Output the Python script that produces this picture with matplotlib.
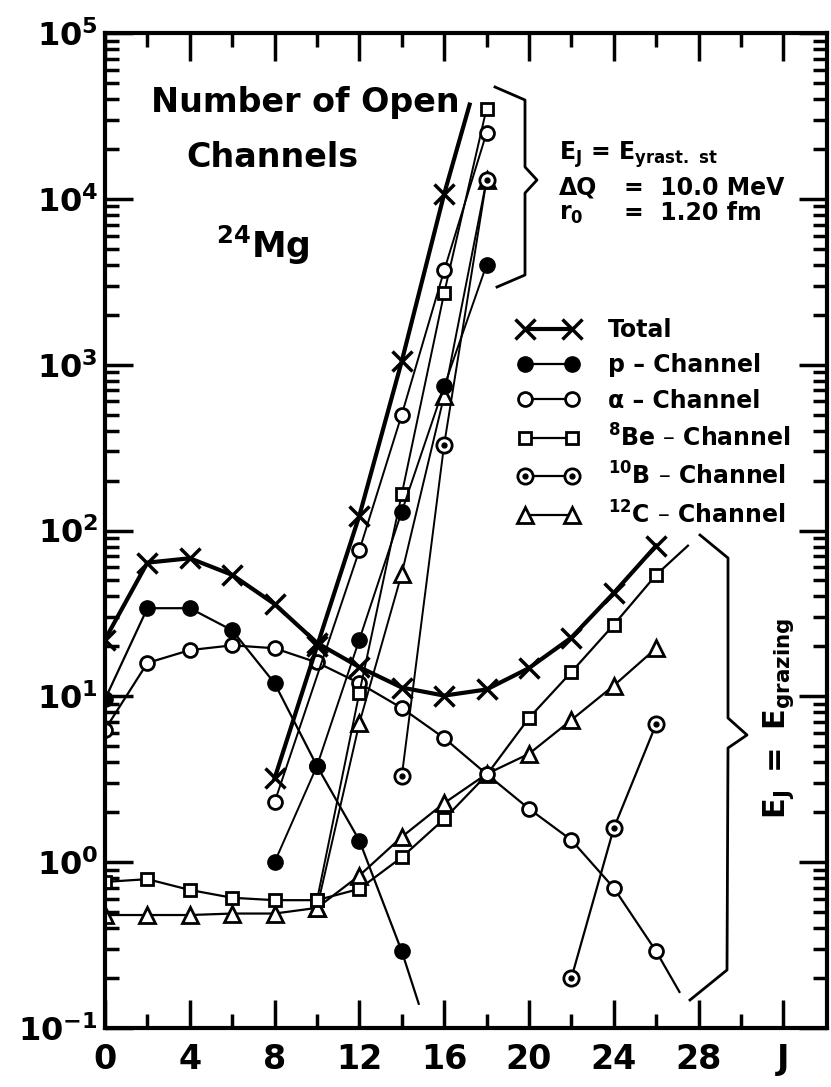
import matplotlib.pyplot as plt
from matplotlib.lines import Line2D
from matplotlib.legend_handler import HandlerTuple
from matplotlib.ticker import FixedLocator, NullFormatter

plt.rcParams['font.family'] = ['DejaVu Sans']
plt.rcParams['font.weight'] = 'bold'
plt.rcParams['mathtext.fontset'] = 'dejavusans'
plt.rcParams['mathtext.default'] = 'bf'

# --- E_J = E_grazing branch ---
J_graz = [0, 2, 4, 6, 8, 10, 12, 14, 16, 18, 20, 22, 24, 26]
total_graz = [22, 64, 68, 54, 36, 21, 15, 11.3, 10.1, 11, 14.8, 22.6, 42, 81]
alpha_graz = [6.3, 15.9, 19, 20.3, 19.5, 16, 12, 8.5, 5.6, 3.4, 2.1, 1.36, 0.70, 0.29]
be_graz = [0.76, 0.79, 0.68, 0.61, 0.59, 0.59, 0.69, 1.07, 1.82, 3.35, 7.4, 14, 27, 54]
c_graz = [0.48, 0.48, 0.48, 0.49, 0.49, 0.53, 0.83, 1.42, 2.27, 3.4, 4.5, 7.2, 11.6, 19.5]
J_p_graz = [0, 2, 4, 6, 8, 10, 12, 14]
p_graz = [9.6, 34, 34, 25, 12, 3.8, 1.35, 0.29]
J_b_graz = [22, 24, 26]
b_graz = [0.20, 1.6, 6.8]

# curves that run on past their last marker
p_graz_end = (14.8, 0.14)
alpha_graz_end = (27.1, 0.165)
be_graz_end = (27.5, 81)

# --- E_J = E_yrast branch ---
J_total_yr = [8, 10, 12, 14, 16]
total_yr = [3.2, 20, 123, 1050, 10700]
total_yr_end = (17.2, 37000)
J_p_yr = [8, 10, 12, 14, 16, 18]
p_yr = [1.0, 3.8, 22, 130, 740, 4000]
J_alpha_yr = [8, 12, 14, 16, 18]
alpha_yr = [2.3, 76, 500, 3700, 25000]
J_be_yr = [10, 12, 14, 16, 18]
be_yr = [0.59, 10.5, 166, 2700, 35000]
J_b_yr = [14, 16, 18]
b_yr = [3.3, 330, 13000]
J_c_yr = [10, 12, 14, 16, 18]
c_yr = [0.53, 6.9, 55, 650, 13000]

x_major = [0, 4, 8, 12, 16, 20, 24, 28, 32]
x_minor = [2, 6, 10, 14, 18, 22, 26, 30]
x_labels = ['0', '4', '8', '12', '16', '20', '24', '28', 'J']
y_exp = [-1, 0, 1, 2, 3, 4, 5]

style = {
    'total': dict(color='k', lw=3, marker='x', ms=14, mew=2.5),
    'p': dict(color='k', lw=1.6, marker='o', ms=11, mfc='k', mec='k'),
    'alpha': dict(color='k', lw=1.6, marker='o', ms=10, mfc='w', mec='k', mew=2),
    'be': dict(color='k', lw=1.6, marker='s', ms=9, mfc='w', mec='k', mew=2),
    'b': dict(color='k', lw=1.6, marker='o', ms=11, mfc='w', mec='k', mew=2),
    'c': dict(color='k', lw=1.6, marker='^', ms=12, mfc='w', mec='k', mew=2),
}
dot = dict(ls='none', marker='o', ms=3.5, color='k')

fig = plt.figure(figsize=(8.31, 10.87), dpi=100)
ax = fig.add_axes([105 / 831, 1 - 1028 / 1087, 722 / 831, 995 / 1087])


def series(J, vals, key, end=None, lw=None):
    xs, ys = list(J), list(vals)
    if end:
        xs.append(end[0])
        ys.append(end[1])
    kw = dict(style[key])
    if lw:
        kw['lw'] = lw
    ax.plot(xs, ys, markevery=list(range(len(J))), **kw)
    if key == 'b':
        ax.plot(J, vals, **dot)


# grazing curves
series(J_graz, c_graz, 'c')
series(J_graz, be_graz, 'be', be_graz_end)
series(J_graz, alpha_graz, 'alpha', alpha_graz_end)
series(J_p_graz, p_graz, 'p', p_graz_end)
series(J_b_graz, b_graz, 'b')
series(J_graz, total_graz, 'total')

# yrast curves
series(J_c_yr, c_yr, 'c', lw=1.4)
series(J_be_yr, be_yr, 'be', lw=1.4)
series(J_alpha_yr, alpha_yr, 'alpha', lw=1.4)
series(J_p_yr, p_yr, 'p', lw=1.4)
series(J_b_yr, b_yr, 'b', lw=1.4)
series(J_total_yr, total_yr, 'total', total_yr_end)

ax.set_yscale('log')
ax.set_xlim(0, 34.06)
ax.set_ylim(0.1, 1e5)

ax.xaxis.set_major_locator(FixedLocator(x_major))
ax.xaxis.set_minor_locator(FixedLocator(x_minor))
ax.set_xticklabels(x_labels)
ax.yaxis.set_major_locator(FixedLocator([10.0 ** e for e in y_exp]))
ax.yaxis.set_minor_locator(FixedLocator([m * 10.0 ** e for e in y_exp[:-1] for m in range(2, 10)]))
ax.set_yticklabels([f'$10^{{{e}}}$' for e in y_exp])
ax.yaxis.set_minor_formatter(NullFormatter())

ax.tick_params(which='both', direction='in', top=True, right=True, width=2.5, color='k')
ax.tick_params(which='major', length=20)
ax.tick_params(which='minor', length=10)
ax.tick_params(axis='x', which='major', labelsize=24, pad=11)
ax.tick_params(axis='y', which='major', labelsize=23, pad=5)
for sp in ax.spines.values():
    sp.set_linewidth(3)

# legend
def handle(key):
    h = Line2D([], [], **style[key])
    if key == 'b':
        return (h, Line2D([], [], **dot))
    return h

labels = ['Total', 'p – Channel', 'α – Channel', '$^{8}$Be – Channel',
          '$^{10}$B – Channel', '$^{12}$C – Channel']
keys = ['total', 'p', 'alpha', 'be', 'b', 'c']
ax.legend([handle(k) for k in keys], labels, handler_map={tuple: HandlerTuple(ndivide=1)},
          loc='upper left', bbox_to_anchor=((518 - 105) / 722, (1028 - 318) / 995),
          frameon=False, numpoints=2, fontsize=17, handlelength=2.6, handletextpad=1.2,
          labelspacing=0.48, borderpad=0, borderaxespad=0)


# braces
def axpt(x, y):
    return ((x - 105) / 722, (1028 - y) / 995)


upper_brace = [(495, 87), (525, 100), (525, 167), (537, 180), (525, 193), (525, 275), (497, 287)]
lower_brace = [(700, 535), (728, 558), (728, 718), (747, 735), (728, 748), (727, 970), (690, 1000)]
for br in (upper_brace, lower_brace):
    pts = [axpt(*p) for p in br]
    ax.plot([p[0] for p in pts], [p[1] for p in pts], color='k', lw=2,
            transform=ax.transAxes, clip_on=False)


def F(x, y):
    return (x / 831, 1 - y / 1087)


fig.text(*F(305, 112), 'Number of Open', ha='center', va='baseline', fontsize=24)
fig.text(*F(272, 167), 'Channels', ha='center', va='baseline', fontsize=24)
fig.text(*F(263, 258), '$^{24}$Mg', ha='center', va='baseline', fontsize=25)

fig.text(*F(559, 160), r'$E_J$ = $E_{yrast.\ st}$', ha='left', va='baseline', fontsize=17)
fig.text(*F(559, 195), 'ΔQ', ha='left', va='baseline', fontsize=17)
fig.text(*F(624, 195), '=  10.0 MeV', ha='left', va='baseline', fontsize=17)
fig.text(*F(559, 220), '$r_0$', ha='left', va='baseline', fontsize=17)
fig.text(*F(624, 220), '=  1.20 fm', ha='left', va='baseline', fontsize=17)

fig.text(*F(779, 718), r'$E_J\ =\ E_{grazing}$', ha='center', va='center',
         rotation=90, fontsize=22)

fig.savefig('out.png', dpi=100)
